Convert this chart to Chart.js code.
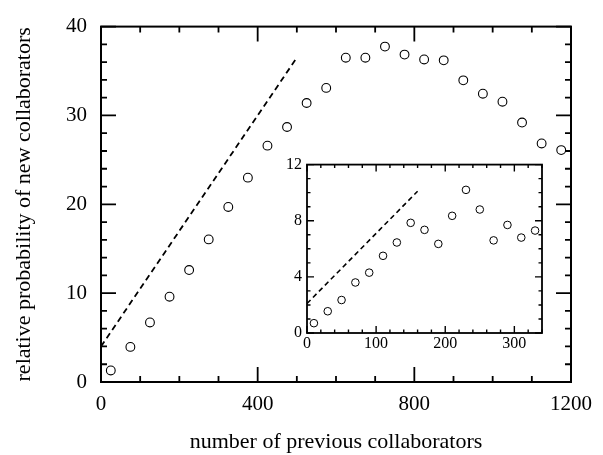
<!DOCTYPE html>
<html>
<head>
<meta charset="utf-8">
<script src="https://cdn.jsdelivr.net/npm/chart.js@4"></script>
<style>
  body { margin: 0; background: #fff; }
  #wrap { position: relative; width: 603px; height: 455px; }
  #mainChart { position: absolute; left: 0; top: 0; }
  #insetChart { position: absolute; left: 270px; top: 150px; }
</style>
</head>
<body>
<div id="wrap">
  <canvas id="mainChart" width="603" height="455"></canvas>
  <canvas id="insetChart" width="290" height="210"></canvas>
</div>
<script>
// main panel: binned data
const mainX = [25, 75, 125, 175, 225, 275, 325, 375, 425, 475, 525, 575,
               625, 675, 725, 775, 825, 875, 925, 975, 1025, 1075, 1125, 1175];
const mainY = [1.3, 3.95, 6.7, 9.6, 12.6, 16.05, 19.7, 23.0, 26.6, 28.7, 31.4, 33.1,
               36.5, 36.5, 37.75, 36.85, 36.3, 36.2, 33.95, 32.45, 31.55, 29.2, 26.85, 26.1];
// dashed guide line in main panel
const mainFitX = [0, 500];
const mainFitY = [4, 36.5];
const mainXTicks = [0, 400, 800, 1200];
const mainYTicks = [0, 10, 20, 30, 40];

// inset
const insetX = [10, 30, 50, 70, 90, 110, 130, 150, 170, 190, 210, 230, 250, 270, 290, 310, 330];
const insetY = [0.7, 1.55, 2.35, 3.6, 4.3, 5.5, 6.45, 7.85, 7.35, 6.35, 8.35, 10.2,
                8.8, 6.6, 7.7, 6.8, 7.3];
const insetFitX = [0, 160];
const insetFitY = [2.1, 10.1];
const insetXTicks = [0, 100, 200, 300];
const insetYTicks = [0, 4, 8, 12];

const xTitle = 'number of previous collaborators';
const yTitle = 'relative probability of new collaborators';

const serif = 'Liberation Serif';

function pts(xs, ys) {
	return xs.map(function(v, i) { return {x: v, y: ys[i]}; });
}

function fixedTicks(values) {
	return function(scale) {
		scale.ticks = values.map(function(v) { return {value: v}; });
	};
}

function plain(v) {
	return String(v);
}

// frame on all four sides with inward ticks
const frameTicks = {
	id: 'frameTicks',
	afterDatasetsDraw(chart, args, o) {
		const ctx = chart.ctx;
		const a = chart.chartArea;
		const sx = chart.scales.x, sy = chart.scales.y;
		ctx.save();
		ctx.strokeStyle = '#000';
		ctx.lineWidth = o.tickWidth;
		ctx.beginPath();
		for (let v = sx.min; v <= sx.max + 1e-9; v += o.xMinor) {
			const p = sx.getPixelForValue(v);
			const len = Math.abs(v / o.xMajor - Math.round(v / o.xMajor)) < 1e-6 ? o.major : o.minor;
			ctx.moveTo(p, a.bottom); ctx.lineTo(p, a.bottom - len);
			ctx.moveTo(p, a.top); ctx.lineTo(p, a.top + len);
		}
		for (let v = sy.min; v <= sy.max + 1e-9; v += o.yMinor) {
			const p = sy.getPixelForValue(v);
			const len = Math.abs(v / o.yMajor - Math.round(v / o.yMajor)) < 1e-6 ? o.major : o.minor;
			ctx.moveTo(a.left, p); ctx.lineTo(a.left + len, p);
			ctx.moveTo(a.right, p); ctx.lineTo(a.right - len, p);
		}
		ctx.stroke();
		ctx.lineWidth = o.frameWidth;
		ctx.strokeRect(a.left, a.top, a.right - a.left, a.bottom - a.top);
		ctx.restore();
	}
};

new Chart(document.getElementById('mainChart'), {
	type: 'scatter',
	data: {
		datasets: [{
			data: pts(mainX, mainY),
			pointStyle: 'circle',
			pointRadius: 4.4,
			pointBorderWidth: 1.1,
			borderColor: '#000',
			backgroundColor: 'rgba(0,0,0,0)'
		}, {
			type: 'line',
			data: pts(mainFitX, mainFitY),
			borderColor: '#000',
			borderWidth: 1.8,
			borderDash: [6, 4],
			pointRadius: 0,
			fill: false
		}]
	},
	options: {
		responsive: false,
		animation: false,
		devicePixelRatio: 1,
		layout: { padding: { top: 14, right: 32, left: 0, bottom: 0 } },
		plugins: {
			legend: { display: false },
			tooltip: { enabled: false },
			frameTicks: { xMajor: 400, xMinor: 100, yMajor: 10, yMinor: 2, major: 15, minor: 6, tickWidth: 1.8, frameWidth: 2 }
		},
		scales: {
			x: {
				type: 'linear', min: 0, max: 1200,
				grid: { display: false, drawTicks: false },
				border: { display: false },
				ticks: { padding: 10, color: '#000', maxRotation: 0, callback: plain, font: { family: serif, size: 21 } },
				title: { display: true, text: xTitle, color: '#000', padding: 0, font: { family: serif, size: 22 } },
				afterBuildTicks: fixedTicks(mainXTicks),
				afterFit: function(scale) { scale.height = 73; }
			},
			y: {
				type: 'linear', min: 0, max: 40,
				grid: { display: false, drawTicks: false },
				border: { display: false },
				ticks: { padding: 14, color: '#000', callback: plain, font: { family: serif, size: 21 } },
				title: { display: true, text: yTitle, color: '#000', padding: { top: 11, bottom: 0 }, font: { family: serif, size: 22 } },
				afterBuildTicks: fixedTicks(mainYTicks),
				afterFit: function(scale) { scale.width = 101; }
			}
		}
	},
	plugins: [frameTicks]
});

new Chart(document.getElementById('insetChart'), {
	type: 'scatter',
	data: {
		datasets: [{
			data: pts(insetX, insetY),
			pointStyle: 'circle',
			pointRadius: 3.8,
			pointBorderWidth: 1,
			borderColor: '#000',
			backgroundColor: 'rgba(0,0,0,0)'
		}, {
			type: 'line',
			data: pts(insetFitX, insetFitY),
			borderColor: '#000',
			borderWidth: 1.6,
			borderDash: [5, 3.5],
			pointRadius: 0,
			fill: false
		}]
	},
	options: {
		responsive: false,
		animation: false,
		devicePixelRatio: 1,
		layout: { padding: { top: 13, right: 18, left: 0, bottom: 0 } },
		plugins: {
			legend: { display: false },
			tooltip: { enabled: false },
			frameTicks: { xMajor: 100, xMinor: 20, yMajor: 4, yMinor: 1, major: 7, minor: 3.5, tickWidth: 1.4, frameWidth: 1.8 }
		},
		scales: {
			x: {
				type: 'linear', min: 0, max: 340,
				grid: { display: false, drawTicks: false },
				border: { display: false },
				ticks: { padding: 1, color: '#000', maxRotation: 0, callback: plain, font: { family: serif, size: 16 } },
				afterBuildTicks: fixedTicks(insetXTicks),
				afterFit: function(scale) { scale.height = 27; }
			},
			y: {
				type: 'linear', min: 0, max: 12,
				grid: { display: false, drawTicks: false },
				border: { display: false },
				ticks: { padding: 5, color: '#000', callback: plain, font: { family: serif, size: 16 } },
				afterBuildTicks: fixedTicks(insetYTicks),
				afterFit: function(scale) { scale.width = 37; }
			}
		}
	},
	plugins: [frameTicks]
});
</script>
</body>
</html>
